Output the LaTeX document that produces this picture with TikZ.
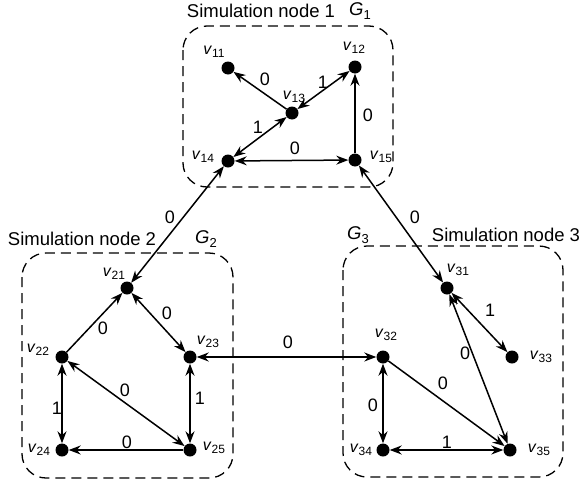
\documentclass[tikz,border=0pt]{standalone}
\usepackage{fontspec}
\setmainfont{Liberation Sans}
\usetikzlibrary{arrows.meta}
\newcommand{\vlab}[2]{\fontsize{16}{16}\selectfont\textit{#1}\raisebox{-0.35ex}{\fontsize{12}{12}\selectfont #2}}
\newcommand{\glab}[1]{\textit{G}\raisebox{-0.35ex}{\fontsize{13}{13}\selectfont #1}}
\begin{document}
\begin{tikzpicture}[x=1pt,y=-1pt,
  dot/.style={circle,fill=black,inner sep=0pt,minimum size=13pt},
  lab/.style={inner sep=0pt,font=\fontsize{16}{16}\selectfont},
  num/.style={inner sep=0pt,font=\fontsize{18}{18}\selectfont},
  captxt/.style={inner sep=0pt,font=\fontsize{18.5}{19}\selectfont},
  grp/.style={draw,line width=1.3pt,rounded corners=24pt,dash pattern=on 10pt off 6pt},
  oneway/.style={line width=1.5pt,-{Stealth[length=12pt,width=9pt]}},
  bi/.style={line width=1.5pt,{Stealth[length=12pt,width=9pt]}-{Stealth[length=12pt,width=9pt]}}]
\useasboundingbox (0,0) rectangle (581,482);
% groups
\draw[grp] (183,26) rectangle (393,187);
\draw[grp] (22,253) rectangle (233,478);
\draw[grp] (343,246) rectangle (563,477);
\node[captxt] (c1) at (261,11) {Simulation node 1};
\node[captxt] (g1) at (360,11) {\glab{1}};
\node[captxt] (c2) at (82,239) {Simulation node 2};
\node[captxt] (g2) at (206,239) {\glab{2}};
\node[captxt] (c3) at (506,235) {Simulation node 3};
\node[captxt] (g3) at (358,235) {\glab{3}};
% nodes
\node[dot] (v11) at (228,68) {};
\node[dot] (v12) at (355,67) {};
\node[dot] (v13) at (292,113) {};
\node[dot] (v14) at (228,161) {};
\node[dot] (v15) at (355,160) {};
\node[dot] (v21) at (127,288) {};
\node[dot] (v22) at (62,357) {};
\node[dot] (v23) at (190,357) {};
\node[dot] (v24) at (62,450) {};
\node[dot] (v25) at (190,450) {};
\node[dot] (v31) at (447,288) {};
\node[dot] (v32) at (383,357) {};
\node[dot] (v33) at (512,357) {};
\node[dot] (v34) at (383,450) {};
\node[dot] (v35) at (510,450) {};
% node labels
\node[lab] (l11) at (214,52) {\vlab{v}{11}};
\node[lab] (l12) at (354,48) {\vlab{v}{12}};
\node[lab] (l13) at (294,97) {\vlab{v}{13}};
\node[lab] (l14) at (203,157) {\vlab{v}{14}};
\node[lab] (l15) at (381,157) {\vlab{v}{15}};
\node[lab] (l21) at (114,274) {\vlab{v}{21}};
\node[lab] (l22) at (38,350) {\vlab{v}{22}};
\node[lab] (l23) at (208,342) {\vlab{v}{23}};
\node[lab] (l24) at (39,450) {\vlab{v}{24}};
\node[lab] (l25) at (214,448) {\vlab{v}{25}};
\node[lab] (l31) at (458,270) {\vlab{v}{31}};
\node[lab] (l32) at (386,335) {\vlab{v}{32}};
\node[lab] (l33) at (541,357) {\vlab{v}{33}};
\node[lab] (l34) at (361,450) {\vlab{v}{34}};
\node[lab] (l35) at (539,450) {\vlab{v}{35}};
% edges G1
\draw[oneway] (v13) -- (v11);
\draw[bi] (v13) -- (v12);
\draw[oneway] (v15) -- (v12);
\draw[bi] (v14) -- (v13);
\draw[bi] (v14) -- (v15);
% edges G2
\draw[oneway] (v22) -- (v21);
\draw[bi] (v21) -- (v23);
\draw[bi] (v22) -- (v25);
\draw[bi] (v22) -- (v24);
\draw[bi] (v23) -- (v25);
\draw[oneway] (v25) -- (v24);
% edges G3
\draw[bi] (v31) -- (v33);
\draw[bi] (v31) -- (v35);
\draw[oneway] (v32) -- (v35);
\draw[bi] (v32) -- (v34);
\draw[bi] (v34) -- (v35);
% inter edges
\draw[bi] (v21) -- (v14);
\draw[bi] (v15) -- (v31);
\draw[bi] (v23) -- (v32);
% edge labels
\node[num] (e1) at (265,79) {0};
\node[num] (e2) at (323,82) {1};
\node[num] (e3) at (368,115) {0};
\node[num] (e4) at (258,127) {1};
\node[num] (e5) at (295,148) {0};
\node[num] (e6) at (103,328) {0};
\node[num] (e7) at (167,313) {0};
\node[num] (e8) at (125,390) {0};
\node[num] (e9) at (57,408) {1};
\node[num] (e10) at (200,398) {1};
\node[num] (e11) at (127,442) {0};
\node[num] (e12) at (490,310) {1};
\node[num] (e13) at (465,353) {0};
\node[num] (e14) at (443,383) {0};
\node[num] (e15) at (373,405) {0};
\node[num] (e16) at (447,442) {1};
\node[num] (e17) at (170,217) {0};
\node[num] (e18) at (415,217) {0};
\node[num] (e19) at (288,342) {0};
\end{tikzpicture}
\end{document}
